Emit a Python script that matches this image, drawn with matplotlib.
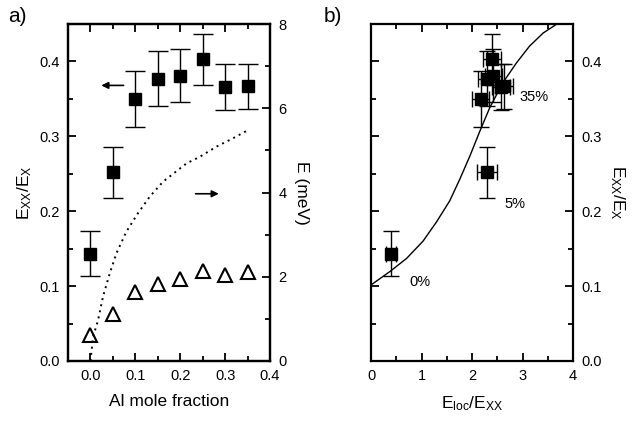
import matplotlib
matplotlib.use("Agg")
import matplotlib.pyplot as plt
from matplotlib.ticker import MultipleLocator

plt.rcParams['font.family'] = ['Liberation Sans', 'DejaVu Sans']
plt.rcParams['mathtext.fontset'] = 'custom'
plt.rcParams['mathtext.rm'] = 'Liberation Sans'
plt.rcParams['mathtext.it'] = 'Liberation Sans'

# panel a) data
al_fraction = [0.0, 0.05, 0.10, 0.15, 0.20, 0.25, 0.30, 0.35]
exx_ratio = [0.143, 0.252, 0.350, 0.377, 0.381, 0.403, 0.366, 0.367]
exx_err = [0.030, 0.034, 0.037, 0.037, 0.035, 0.034, 0.031, 0.030]
e_mev = [0.62, 1.12, 1.63, 1.83, 1.94, 2.13, 2.03, 2.12]

# dotted curve in a) (right axis, meV)
dot_x = [0.0, 0.006, 0.017, 0.028, 0.043, 0.058, 0.080, 0.106, 0.132,
         0.162, 0.214, 0.244, 0.281, 0.318, 0.349]
dot_y = [0.0, 0.58, 0.97, 1.53, 2.08, 2.56, 3.07, 3.51, 3.90,
         4.26, 4.69, 4.85, 5.09, 5.29, 5.47]

# panel b) data
eloc_ratio = [0.39, 2.29, 2.17, 2.29, 2.42, 2.40, 2.58, 2.63]
eloc_err = [0.10, 0.20, 0.17, 0.17, 0.17, 0.18, 0.18, 0.18]

# solid curve in b)
fit_x = [0.0, 0.375, 0.705, 1.03, 1.30, 1.56, 1.76, 1.96, 2.15, 2.35,
         2.61, 2.88, 3.14, 3.41, 3.67, 3.75]
fit_y = [0.1015, 0.1195, 0.137, 0.160, 0.186, 0.214, 0.243, 0.274, 0.306,
         0.338, 0.3715, 0.398, 0.4205, 0.438, 0.4495, 0.452]

fig = plt.figure(figsize=(6.36, 4.30), dpi=100)
ax1 = fig.add_axes([68/636, 69/430, 202/636, 337/430])
ax2 = fig.add_axes([371/636, 69/430, 202/636, 337/430])


def style(ax):
    for s in ax.spines.values():
        s.set_linewidth(1.6)
    ax.tick_params(which='both', direction='in', width=1.3, labelsize=10.5)
    ax.tick_params(which='major', length=6, pad=6)
    ax.tick_params(which='minor', length=3.5)


# ---- panel a ----
ax1.errorbar(al_fraction, exx_ratio, yerr=exx_err, fmt='s', color='black',
             markersize=8.5, elinewidth=1.0, capsize=7, capthick=1.0)
ax1.set_xlim(-0.05, 0.4)
ax1.set_ylim(0, 0.45)
ax1.xaxis.set_major_locator(MultipleLocator(0.1))
ax1.xaxis.set_minor_locator(MultipleLocator(0.05))
ax1.yaxis.set_major_locator(MultipleLocator(0.1))
ax1.yaxis.set_minor_locator(MultipleLocator(0.05))
ax1.xaxis.set_major_formatter(plt.FormatStrFormatter('%.1f'))
ax1.yaxis.set_major_formatter(plt.FormatStrFormatter('%.1f'))
style(ax1)
ax1.tick_params(axis='x', which='both', top=True, labeltop=False)
ax1.set_xlabel('Al mole fraction', fontsize=12.5, labelpad=8)
ax1.set_ylabel(r'E$_{\rm XX}$/E$_{\rm X}$', fontsize=12.5, labelpad=4)

ax1r = ax1.twinx()
ax1r.plot(al_fraction, e_mev, linestyle='none', marker='^', markersize=10,
          markerfacecolor='white', markeredgecolor='black', markeredgewidth=1.5)
ax1r.plot(dot_x, dot_y, linestyle=(0, (1, 2.2)), color='black', linewidth=1.4)
ax1r.set_ylim(0, 8)
ax1r.yaxis.set_major_locator(MultipleLocator(2))
ax1r.yaxis.set_minor_locator(MultipleLocator(1))
style(ax1r)
ax1r.set_ylabel('E (meV)', fontsize=12.5, rotation=270, labelpad=16)

ax1.annotate('', xy=(0.018, 0.368), xytext=(0.080, 0.368),
             arrowprops=dict(arrowstyle='-|>', color='black', lw=1.2,
                             mutation_scale=10))
ax1r.annotate('', xy=(0.292, 3.97), xytext=(0.228, 3.97),
              arrowprops=dict(arrowstyle='-|>', color='black', lw=1.2,
                              mutation_scale=10))

# ---- panel b ----
ax2.plot(fit_x, fit_y, color='black', linewidth=1.0, clip_on=True)
ax2.errorbar(eloc_ratio, exx_ratio, xerr=eloc_err, yerr=exx_err, fmt='s',
             color='black', markersize=8.5, elinewidth=1.0, capsize=6,
             capthick=1.0)
ax2.set_xlim(0, 4)
ax2.set_ylim(0, 0.45)
ax2.xaxis.set_major_locator(MultipleLocator(1))
ax2.xaxis.set_minor_locator(MultipleLocator(0.5))
ax2.yaxis.set_major_locator(MultipleLocator(0.1))
ax2.yaxis.set_minor_locator(MultipleLocator(0.05))
ax2.yaxis.set_major_formatter(plt.FormatStrFormatter('%.1f'))
style(ax2)
ax2.tick_params(which='both', top=True, right=True, labelleft=False,
                labelright=True)
ax2.yaxis.set_label_position('right')
ax2.set_xlabel(r'E$_{\rm loc}$/E$_{\rm XX}$', fontsize=12.5, labelpad=8)
ax2.set_ylabel(r'E$_{\rm XX}$/E$_{\rm X}$', fontsize=12.5, rotation=270,
               labelpad=18)

ax2.text(0.75, 0.106, '0%', fontsize=10.5, va='center')
ax2.text(2.65, 0.21, '5%', fontsize=10.5, va='center')
ax2.text(2.94, 0.352, '35%', fontsize=10.5, va='center')

fig.text(8/636, 1 - 17/430, 'a)', fontsize=15, va='center')
fig.text(324/636, 1 - 17/430, 'b)', fontsize=15, va='center')

fig.savefig('out.png', dpi=100)
